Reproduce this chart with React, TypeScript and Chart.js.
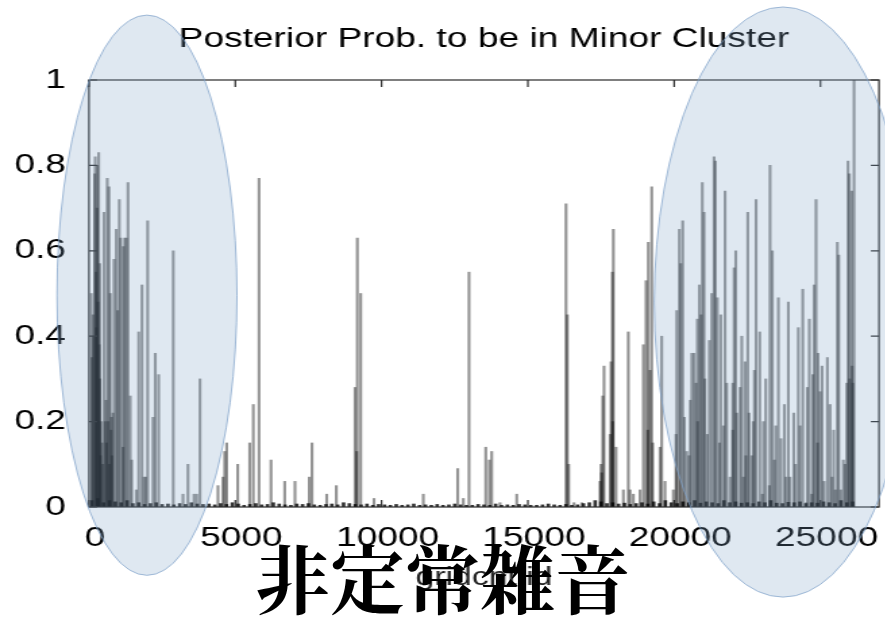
import React, { useEffect, useRef } from "react";
import { Chart, registerables } from "chart.js";

Chart.register(...registerables);

// ---------- data ----------
const TITLE = "Posterior Prob. to be in Minor Cluster";
const X_LABEL = "gridcnt id";
const OVERLAY_TEXT = "非定常雑音";

const X_TICKS = [0, 5000, 10000, 15000, 20000, 25000];
const Y_TICKS = [0, 0.2, 0.4, 0.6, 0.8, 1];

const LEFT_X = [79, 137, 195, 215, 239, 273, 284, 308, 332, 366, 376, 410, 444, 513, 547, 581, 625, 684, 728, 752, 769, 786, 820, 855, 933, 981, 1036, 1084, 1162, 1172, 1220, 1275, 1333, 1412, 1460, 1617, 1699, 1812, 1880, 1938, 2006, 2188, 2266, 2382, 2881, 3213, 3384, 3589, 3681, 3794, 4409, 4580, 4638, 4707, 5083, 5493, 5616, 5811, 6221, 100, 160, 250, 350, 390, 470, 600, 650, 700];
const LEFT_Y = [0.50, 0.45, 0.78, 0.82, 0.55, 0.70, 0.80, 0.48, 0.83, 0.57, 0.30, 0.20, 0.15, 0.69, 0.20, 0.25, 0.77, 0.75, 0.50, 0.18, 0.21, 0.12, 0.22, 0.58, 0.65, 0.46, 0.72, 0.63, 0.14, 0.61, 0.63, 0.63, 0.76, 0.26, 0.11, 0.04, 0.41, 0.52, 0.07, 0.07, 0.67, 0.21, 0.36, 0.31, 0.60, 0.03, 0.10, 0.03, 0.03, 0.30, 0.05, 0.07, 0.13, 0.15, 0.10, 0.15, 0.24, 0.77, 0.11, 0.35, 0.40, 0.42, 0.38, 0.12, 0.10, 0.15, 0.20, 0.10];

const MID_X = [6689, 7041, 7530, 7622, 8125, 8453, 9092, 9150, 9171, 9287, 9741, 11426, 12602, 12794, 12989, 13560, 13682, 13764, 14048, 14619, 16304, 16349, 16396, 16577, 16841];
const MID_Y = [0.06, 0.06, 0.07, 0.15, 0.03, 0.05, 0.28, 0.13, 0.63, 0.50, 0.02, 0.03, 0.09, 0.02, 0.55, 0.14, 0.11, 0.13, 0.01, 0.03, 0.71, 0.45, 0.10, 0.01, 0.01];

const RIGHT_X = [17466, 17524, 17558, 17603, 17808, 17842, 17887, 17921, 18013, 18263, 18433, 18492, 18604, 18833, 18946, 19038, 19117, 19175, 19233, 19267, 19516, 19574, 19687, 19971, 20063, 20087, 20176, 20224, 20292, 20429, 20508, 20600, 20679, 20747, 20791, 20860, 20918, 20962, 21021, 21134, 21202, 21284, 21363, 21407, 21476, 21592, 21681, 21739, 21797, 21910, 22002, 22047, 22105, 22139];
const RIGHT_Y = [0.06, 0.08, 0.26, 0.33, 0.17, 0.34, 0.55, 0.65, 0.14, 0.04, 0.41, 0.04, 0.03, 0.04, 0.38, 0.53, 0.62, 0.32, 0.75, 0.15, 0.14, 0.40, 0.06, 0.04, 0.17, 0.46, 0.65, 0.57, 0.67, 0.13, 0.12, 0.36, 0.36, 0.29, 0.44, 0.52, 0.45, 0.76, 0.69, 0.17, 0.39, 0.50, 0.82, 0.81, 0.49, 0.45, 0.19, 0.74, 0.29, 0.07, 0.29, 0.56, 0.60, 0.22];

const FAR_X = [22252, 22310, 22364, 22423, 22515, 22559, 22651, 22740, 22798, 22925, 23014, 23130, 23253, 23277, 23355, 23424, 23472, 23561, 23766, 23824, 23902, 23960, 24087, 24244, 24302, 24394, 24507, 24620, 24702, 24736, 24781, 24849, 24918, 24986, 25054, 25123, 25235, 25328, 25396, 25509, 25577, 25625, 25693, 25782, 25840, 25898, 25942, 25987, 26069, 26103, 26147];
const FAR_Y = [0.28, 0.40, 0.07, 0.34, 0.69, 0.22, 0.12, 0.32, 0.72, 0.41, 0.03, 0.30, 0.05, 0.80, 0.60, 0.11, 0.19, 0.49, 0.24, 0.07, 0.48, 0.07, 0.22, 0.42, 0.19, 0.51, 0.01, 0.44, 0.03, 0.31, 0.52, 0.72, 0.36, 0.27, 0.33, 0.06, 0.35, 0.24, 0.07, 0.04, 0.62, 0.59, 0.04, 0.11, 0.10, 0.29, 0.81, 0.78, 0.74, 0.29, 1.0];

const LOW_X = [17500, 17900, 19100, 20350, 20550, 20800, 21050, 21550, 22000, 22450, 22700, 23050, 23650, 24150, 24550, 24900, 25450, 26000, 26080];
const LOW_Y = [0.10, 0.20, 0.18, 0.21, 0.25, 0.20, 0.30, 0.15, 0.18, 0.12, 0.20, 0.20, 0.16, 0.10, 0.28, 0.15, 0.18, 0.30, 0.33];

const NOISE_START = 100;
const NOISE_STEP = 200;
const NOISE_VALUES = [
  0.015, 0.02, 0.01, 0.015, 0.012, 0.01, 0.015, 0.008, 0.01, 0.006, 0.008, 0.01, 0.006, 0.007, 0.005, 0.008, 0.006, 0.01, 0.007, 0.006,
  0.007, 0.005, 0.008, 0.006, 0.01, 0.007, 0.004, 0.006, 0.008, 0.005, 0.006, 0.01, 0.007, 0.005, 0.004, 0.007, 0.006, 0.008, 0.005, 0.004, 0.006, 0.007, 0.005, 0.01, 0.008, 0.006, 0.005, 0.007, 0.004, 0.006,
  0.005, 0.004, 0.006, 0.004, 0.005, 0.007, 0.004, 0.005, 0.004, 0.006, 0.004, 0.005, 0.007, 0.005, 0.004, 0.004, 0.006, 0.005, 0.004, 0.007, 0.004, 0.005, 0.004, 0.006, 0.005, 0.004, 0.004, 0.005, 0.007, 0.005, 0.004, 0.006, 0.004, 0.005,
  0.008, 0.01, 0.015, 0.012, 0.008, 0.01, 0.007, 0.009, 0.006, 0.008, 0.01, 0.007, 0.012, 0.008, 0.015, 0.01, 0.008, 0.012, 0.01, 0.015, 0.009, 0.012, 0.01, 0.008, 0.015, 0.01, 0.012, 0.009, 0.01, 0.008, 0.012, 0.01, 0.015, 0.009, 0.008, 0.011, 0.01, 0.012, 0.008, 0.01, 0.009, 0.012, 0.01, 0.008, 0.015, 0.01, 0.012,
];

// highlighted regions (data units): centre x, centre y, radius x, radius y
const ELLIPSES = [
  { cx: 1982, cy: 0.496, rx: 3076, ry: 0.656 },
  { cx: 23720, cy: 0.48, rx: 4400, ry: 0.691 },
];

// ---------- layout / style ----------
const STRETCH = 1.35; // the source picture is stretched horizontally
const CW = 656;
const CH = 618;
const FONT = "'Liberation Sans', Arial, Helvetica, sans-serif";

const pairs = (xs: number[], ys: number[]) => xs.map((x, i) => ({ x, y: ys[i] }));

const overlayPlugin = {
  id: "gnuplotFrame",
  afterDraw(chart: any) {
    const { ctx, chartArea: a, scales } = chart;
    const xs = scales.x;
    const ys = scales.y;
    ctx.save();
    ctx.strokeStyle = "#2a2a2a";
    ctx.lineWidth = 1.2;
    ctx.strokeRect(a.left, a.top, a.right - a.left, a.bottom - a.top);
    ctx.beginPath();
    for (const v of Y_TICKS) {
      const py = ys.getPixelForValue(v);
      ctx.moveTo(a.left, py);
      ctx.lineTo(a.left + 6, py);
      ctx.moveTo(a.right, py);
      ctx.lineTo(a.right - 6, py);
    }
    for (const v of X_TICKS) {
      const px = xs.getPixelForValue(v);
      ctx.moveTo(px, a.bottom);
      ctx.lineTo(px, a.bottom - 7);
      ctx.moveTo(px, a.top);
      ctx.lineTo(px, a.top + 7);
    }
    ctx.stroke();
    for (const e of ELLIPSES) {
      const cx = xs.getPixelForValue(e.cx);
      const cy = ys.getPixelForValue(e.cy);
      const rx = Math.abs(xs.getPixelForValue(e.cx + e.rx) - cx);
      const ry = Math.abs(ys.getPixelForValue(e.cy + e.ry) - cy);
      ctx.beginPath();
      ctx.ellipse(cx, cy, rx, ry, 0, 0, Math.PI * 2);
      ctx.fillStyle = "rgba(128,164,200,0.25)";
      ctx.fill();
      ctx.strokeStyle = "rgba(125,160,200,0.9)";
      ctx.lineWidth = 0.8;
      ctx.stroke();
    }
    ctx.restore();
  },
};

export default function App() {
  const ref = useRef<HTMLCanvasElement | null>(null);

  useEffect(() => {
    if (!ref.current) return;
    const spikes = [
      ...pairs(LEFT_X, LEFT_Y),
      ...pairs(MID_X, MID_Y),
      ...pairs(RIGHT_X, RIGHT_Y),
      ...pairs(FAR_X, FAR_Y),
      ...pairs(LOW_X, LOW_Y),
    ];
    const noise = NOISE_VALUES.map((y, i) => ({ x: NOISE_START + i * NOISE_STEP, y }));
    const tickFont = { family: FONT, size: 27.5, weight: "normal" as const, lineHeight: 1.2 };

    const chart = new Chart(ref.current, {
      type: "bar",
      data: {
        datasets: [
          {
            label: "noise",
            data: noise as any,
            backgroundColor: "rgba(0,0,0,0.8)",
            barThickness: 2,
            grouped: false,
          } as any,
          {
            label: "posterior",
            data: spikes as any,
            backgroundColor: "rgba(0,0,0,0.42)",
            barThickness: 1.5,
            grouped: false,
          } as any,
        ],
      },
      options: {
        responsive: false,
        animation: false,
        devicePixelRatio: 1,
        layout: { padding: { left: 0, right: 4.9, top: 0, bottom: 0 } },
        plugins: {
          legend: { display: false },
          tooltip: { enabled: false },
          title: {
            display: true,
            text: TITLE,
            fullSize: false,
            color: "#000",
            font: { family: FONT, size: 27.5, weight: "normal", lineHeight: 1.2 },
            padding: { top: 23, bottom: 24 },
          },
        },
        scales: {
          x: {
            type: "linear",
            min: 0,
            max: 27000,
            offset: false,
            afterBuildTicks: (s: any) => {
              s.ticks = X_TICKS.map((value) => ({ value }));
            },
            afterFit: (s: any) => {
              s.height = 111;
              s.paddingLeft = 0;
              s.paddingRight = 0;
            },
            ticks: {
              color: "#000",
              font: tickFont,
              padding: 15,
              labelOffset: 4.5,
              maxRotation: 0,
              autoSkip: false,
              callback: (v: any) => String(v),
            },
            grid: { display: false, drawTicks: false },
            border: { display: false },
            title: {
              display: true,
              text: X_LABEL,
              color: "#222",
              font: { family: FONT, size: 25, lineHeight: 1.2 },
              padding: { top: 0, bottom: 25 },
            },
          },
          y: {
            type: "linear",
            min: 0,
            max: 1,
            afterBuildTicks: (s: any) => {
              s.ticks = Y_TICKS.map((value) => ({ value }));
            },
            afterFit: (s: any) => {
              s.width = 65.9;
              s.paddingTop = 0;
              s.paddingBottom = 0;
            },
            ticks: {
              color: "#000",
              font: tickFont,
              padding: 17,
              callback: (v: any) => String(v),
            },
            grid: { display: false, drawTicks: false },
            border: { display: false },
          },
        },
      } as any,
      plugins: [overlayPlugin],
    });
    return () => chart.destroy();
  }, []);

  return (
    <div style={{ position: "absolute", left: 0, top: 0, width: 885, height: 618, overflow: "hidden", background: "#fff" }}>
      <div style={{ position: "absolute", left: 0, top: 0, width: CW, height: CH, transform: `scaleX(${STRETCH})`, transformOrigin: "0 0" }}>
        <canvas ref={ref} width={CW} height={CH} />
      </div>
      <div
        style={{
          position: "absolute",
          left: 255,
          top: 538,
          fontFamily: "'Noto Serif CJK JP', 'Noto Sans CJK JP', serif",
          fontWeight: 700,
          fontSize: 75,
          lineHeight: "75px",
          color: "#000",
          whiteSpace: "nowrap",
        }}
      >
        {OVERLAY_TEXT}
      </div>
    </div>
  );
}
